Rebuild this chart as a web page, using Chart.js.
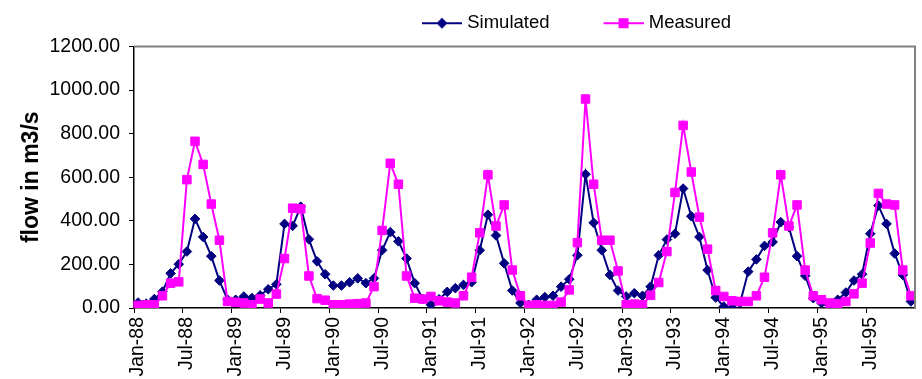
<!DOCTYPE html>
<html>
<head>
<meta charset="utf-8">
<script src="https://cdn.jsdelivr.net/npm/chart.js@4"></script>
<style>
  body { margin: 0; background: #fff; }
</style>
</head>
<body>
<canvas id="grafico_vazao" width="922" height="379"></canvas>
<script>
const meses = ['Jan', 'Feb', 'Mar', 'Apr', 'May', 'Jun', 'Jul', 'Aug', 'Sep', 'Oct', 'Nov', 'Dec'];
const anos = ['88', '89', '90', '91', '92', '93', '94', '95'];

// vazao mensal simulada (m3/s), Jan-88 .. Dec-95
const simulado = [
  25, 20, 41, 75, 159, 201, 259, 409, 326, 238, 126, 38,
  38, 53, 46, 58, 86, 109, 386, 377, 465, 315, 214, 155,
  103, 103, 118, 136, 114, 136, 265, 348, 306, 227, 114, 41,
  15, 40, 74, 91, 106, 118, 265, 428, 333, 205, 80, 23,
  15, 38, 50, 56, 98, 132, 242, 614, 391, 265, 152, 80,
  53, 68, 56, 98, 242, 314, 341, 548, 421, 326, 174, 48,
  7, 0, 23, 167, 223, 285, 303, 394, 371, 238, 148, 45,
  23, 2, 38, 71, 126, 155, 341, 470, 386, 250, 152, 30
];

// vazao mensal medida (m3/s)
const medido = [
  12, 15, 15, 56, 114, 120, 589, 765, 659, 477, 311, 30,
  26, 23, 15, 41, 23, 64, 227, 458, 455, 147, 43, 36,
  15, 15, 18, 20, 23, 98, 356, 664, 568, 147, 45, 41,
  53, 33, 27, 23, 56, 141, 345, 611, 376, 473, 174, 56,
  12, 15, 12, 12, 27, 83, 300, 959, 568, 311, 311, 170,
  15, 18, 15, 58, 117, 259, 530, 838, 624, 417, 270, 80,
  53, 33, 30, 30, 56, 141, 345, 611, 376, 473, 174, 56,
  38, 23, 20, 30, 65, 114, 298, 526, 477, 473, 174, 56
];

const rotulos = anos.flatMap(a => meses.map(m => `${m}-${a}`));

const AZUL = '#000080';
const MAGENTA = '#FF00FF';
const FONTE = "'Liberation Sans', Arial, sans-serif";

// icone da legenda: linha com o marcador no meio (a parte da esquerda fica vazia)
function iconeLegenda(cor, losango) {
  const c = document.createElement('canvas');
  c.width = 92;
  c.height = 14;
  const g = c.getContext('2d');
  g.strokeStyle = cor;
  g.lineWidth = 2;
  g.beginPath();
  g.moveTo(52, 7);
  g.lineTo(92, 7);
  g.stroke();
  g.fillStyle = cor;
  if (losango) {
    g.beginPath();
    g.moveTo(72, 1.5);
    g.lineTo(77.5, 7);
    g.lineTo(72, 12.5);
    g.lineTo(66.5, 7);
    g.closePath();
    g.fill();
  } else {
    g.fillRect(67, 2, 10, 10);
  }
  return c;
}
const icones = [iconeLegenda(AZUL, true), iconeLegenda(MAGENTA, false)];

// moldura cinza em cima e a direita da area de plotagem
const moldura = {
  id: 'moldura',
  afterDraw(chart) {
    const { ctx, chartArea: a } = chart;
    ctx.save();
    ctx.strokeStyle = '#808080';
    ctx.lineWidth = 2;
    ctx.beginPath();
    ctx.moveTo(a.left, a.top);
    ctx.lineTo(a.right, a.top);
    ctx.lineTo(a.right, a.bottom);
    ctx.stroke();
    ctx.restore();
  }
};

// desloca a legenda para a direita e um pouco para cima
const posLegenda = {
  id: 'posLegenda',
  afterLayout(chart) {
    const l = chart.legend;
    l.left += 368;
    l.right += 368;
    l.top -= 4;
    l.bottom -= 4;
  }
};

const ctx_vazao = document.getElementById('grafico_vazao').getContext('2d');
const gerarPadrao = Chart.defaults.plugins.legend.labels.generateLabels;
const visivel = i => i % 6 === 0;

new Chart(ctx_vazao, {
  type: 'line',
  data: {
    labels: rotulos,
    datasets: [{
      label: 'Simulated',
      data: simulado,
      borderColor: AZUL,
      backgroundColor: AZUL,
      borderWidth: 2,
      pointStyle: 'rectRot',
      pointRadius: 4.8,
      pointBorderWidth: 1,
      tension: 0,
      order: 1
    }, {
      label: 'Measured',
      data: medido,
      borderColor: MAGENTA,
      backgroundColor: MAGENTA,
      borderWidth: 2,
      pointStyle: 'rect',
      pointRadius: 6,
      pointBorderWidth: 1,
      tension: 0,
      order: 0
    }]
  },
  options: {
    responsive: false,
    animation: false,
    devicePixelRatio: 1,
    layout: { padding: { top: 12, right: 3, left: 0, bottom: 0 } },
    plugins: {
      tooltip: { enabled: false },
      legend: {
        position: 'top',
        align: 'start',
        labels: {
          usePointStyle: true,
          pointStyleWidth: 84,
          padding: 6,
          color: '#000',
          font: { family: FONTE, size: 18.5 },
          sort: (a, b) => a.datasetIndex - b.datasetIndex,
          generateLabels(chart) {
            const itens = gerarPadrao(chart);
            itens.forEach(it => { it.pointStyle = icones[it.datasetIndex]; });
            return itens;
          }
        }
      }
    },
    scales: {
      x: {
        type: 'category',
        offset: true,
        grid: {
          offset: true,
          drawOnChartArea: false,
          drawTicks: true,
          tickLength: 5,
          tickColor: c => (visivel(c.index) ? '#000' : 'rgba(0,0,0,0)'),
          color: c => (visivel(c.index) ? '#000' : 'rgba(0,0,0,0)')
        },
        border: { color: '#000', width: 1.5 },
        ticks: {
          autoSkip: false,
          maxRotation: 90,
          minRotation: 90,
          padding: 4,
          color: '#000',
          font: { family: FONTE, size: 19.5 },
          callback: (v, i) => (visivel(i) ? rotulos[i] : '')
        },
        afterFit: s => {
          s.height = 71;
          s.paddingLeft = 0;
          s.paddingRight = 0;
        }
      },
      y: {
        min: 0,
        max: 1200,
        grid: {
          drawOnChartArea: false,
          drawTicks: true,
          tickLength: 5,
          tickColor: '#000'
        },
        border: { color: '#000', width: 1.5 },
        ticks: {
          stepSize: 200,
          padding: 9,
          color: '#000',
          font: { family: FONTE, size: 19.5 },
          callback: v => v.toFixed(2)
        },
        title: {
          display: true,
          text: 'flow in m3/s',
          color: '#000',
          padding: { top: 18, bottom: 0 },
          font: { family: FONTE, size: 23, weight: 'bold' }
        },
        afterFit: s => { s.width = 134; }
      }
    }
  },
  plugins: [moldura, posLegenda]
});
</script>
</body>
</html>
